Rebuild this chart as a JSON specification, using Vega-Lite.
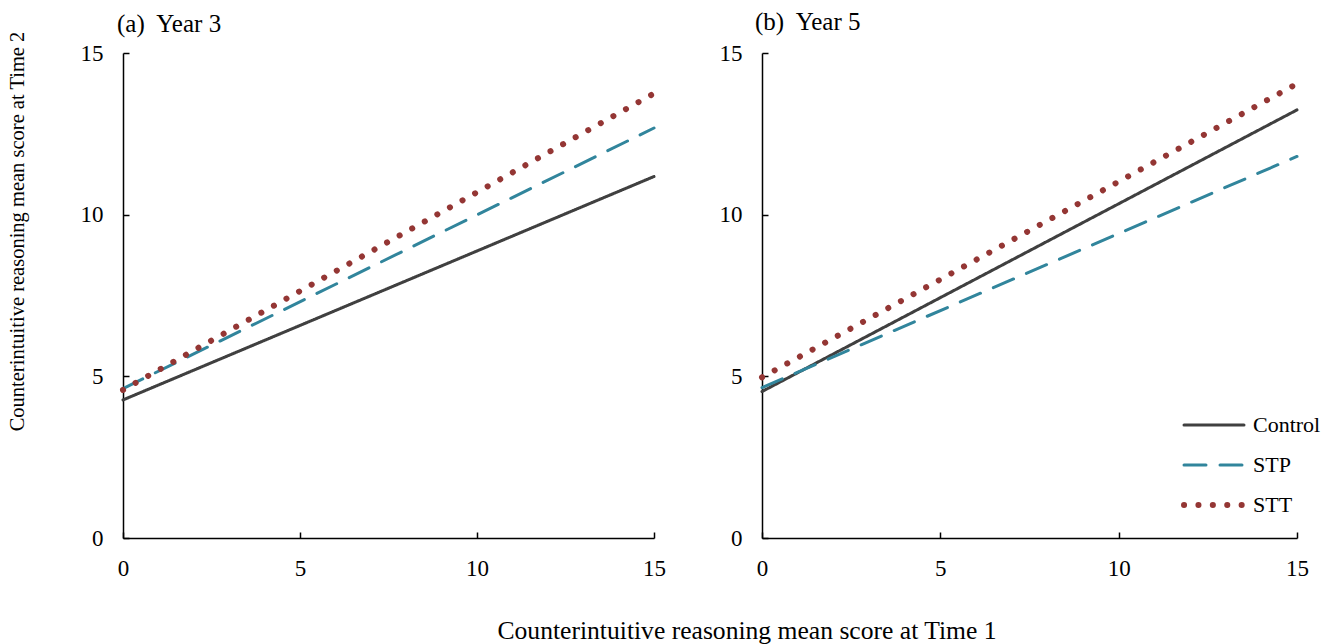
{
  "$schema": "https://vega.github.io/schema/vega-lite/v6.json",
  "background": "white",
  "padding": {"left": 6, "top": 10, "right": 16, "bottom": 4},
  "config": {
    "font": "Liberation Serif",
    "view": {"stroke": null},
    "axis": {"grid": false, "labelFlush": false, "domainColor": "black", "domainWidth": 1.5, "tickColor": "black", "tickWidth": 1.5, "tickSize": -6, "labelFontSize": 23, "labelColor": "black", "labelFont": "Liberation Serif", "titleFont": "Liberation Serif", "titleFontSize": 20.5, "titleFontWeight": "normal", "titleColor": "black"},
    "concat": {"spacing": 53},
    "title": {"font": "Liberation Serif", "fontWeight": "normal", "color": "black"}
  },
  "datasets": {
    "lines": [
      {"panel": "a", "group": "Control", "t1": 0, "t2": 4.27},
      {"panel": "a", "group": "Control", "t1": 15, "t2": 11.18},
      {"panel": "a", "group": "STP", "t1": 0, "t2": 4.62},
      {"panel": "a", "group": "STP", "t1": 15, "t2": 12.68},
      {"panel": "a", "group": "STT", "t1": 0, "t2": 4.58},
      {"panel": "a", "group": "STT", "t1": 15, "t2": 13.75},
      {"panel": "b", "group": "Control", "t1": 0, "t2": 4.53},
      {"panel": "b", "group": "Control", "t1": 15, "t2": 13.24},
      {"panel": "b", "group": "STP", "t1": 0, "t2": 4.65},
      {"panel": "b", "group": "STP", "t1": 15, "t2": 11.8},
      {"panel": "b", "group": "STT", "t1": 0, "t2": 4.97},
      {"panel": "b", "group": "STT", "t1": 15, "t2": 14.05}
    ]
  },
  "title": {"text": "Counterintuitive reasoning mean score at Time 1", "orient": "bottom", "anchor": "middle", "fontSize": 25.6, "dx": 83, "offset": 39},
  "hconcat": [
    {
      "width": 531, "height": 485,
      "title": {"text": "(a)\u00a0 Year 3", "anchor": "start", "frame": "group", "fontSize": 25, "baseline": "alphabetic", "dx": -6, "offset": -26},
      "data": {"name": "lines"},
      "transform": [{"filter": "datum.panel === 'a'"}],
      "mark": {"type": "line", "strokeCap": "round"},
      "encoding": {
        "x": {"field": "t1", "type": "quantitative", "scale": {"domain": [0, 15]}, "axis": {"values": [0, 5, 10, 15], "title": null, "labelPadding": 25}},
        "y": {"field": "t2", "type": "quantitative", "scale": {"domain": [0, 15]}, "axis": {"values": [0, 5, 10, 15], "title": "Counterintuitive reasoning mean score at Time 2", "titleX": -106, "titleY": 178, "titleBaseline": "middle", "titleAlign": "center", "labelPadding": 26}},
        "color": {"field": "group", "type": "nominal", "scale": {"domain": ["Control", "STP", "STT"], "range": ["#404040", "#31859C", "#943634"]}, "legend": null},
        "strokeDash": {"field": "group", "type": "nominal", "scale": {"domain": ["Control", "STP", "STT"], "range": [[1, 0], [22, 14], [0.1, 14.3]]}, "legend": null},
        "strokeWidth": {"field": "group", "type": "nominal", "scale": {"type": "ordinal", "domain": ["Control", "STP", "STT"], "range": [3, 3, 6]}, "legend": null}
      }
    },
    {
      "width": 535, "height": 485,
      "title": {"text": "(b)\u00a0 Year 5", "anchor": "start", "frame": "group", "fontSize": 25, "baseline": "alphabetic", "dx": -7, "offset": -13},
      "data": {"name": "lines"},
      "transform": [{"filter": "datum.panel === 'b'"}],
      "mark": {"type": "line", "strokeCap": "round"},
      "encoding": {
        "x": {"field": "t1", "type": "quantitative", "scale": {"domain": [0, 15]}, "axis": {"values": [0, 5, 10, 15], "title": null, "labelPadding": 25}},
        "y": {"field": "t2", "type": "quantitative", "scale": {"domain": [0, 15]}, "axis": {"values": [0, 5, 10, 15], "title": null, "labelPadding": 26}},
        "color": {"field": "group", "type": "nominal", "scale": {"domain": ["Control", "STP", "STT"], "range": ["#404040", "#31859C", "#943634"]},
          "legend": {"orient": "none", "legendX": 419, "legendY": 353, "title": null, "symbolType": "M-2,0H2", "symbolSize": 900, "symbolOffset": 15, "labelFontSize": 22, "labelFont": "Liberation Serif", "labelColor": "black", "labelOffset": 21, "clipHeight": 38, "rowPadding": 2,
            "encode": {"symbols": {"update": {"strokeCap": {"value": "round"}, "fill": {"value": "transparent"}}}}}},
        "strokeDash": {"field": "group", "type": "nominal", "scale": {"domain": ["Control", "STP", "STT"], "range": [[1, 0], [22, 14], [0.1, 14.3]]}},
        "strokeWidth": {"field": "group", "type": "nominal", "scale": {"type": "ordinal", "domain": ["Control", "STP", "STT"], "range": [3, 3, 6]}}
      }
    }
  ],
  "resolve": {"legend": {"color": "independent", "strokeDash": "independent", "strokeWidth": "independent"}}
}
